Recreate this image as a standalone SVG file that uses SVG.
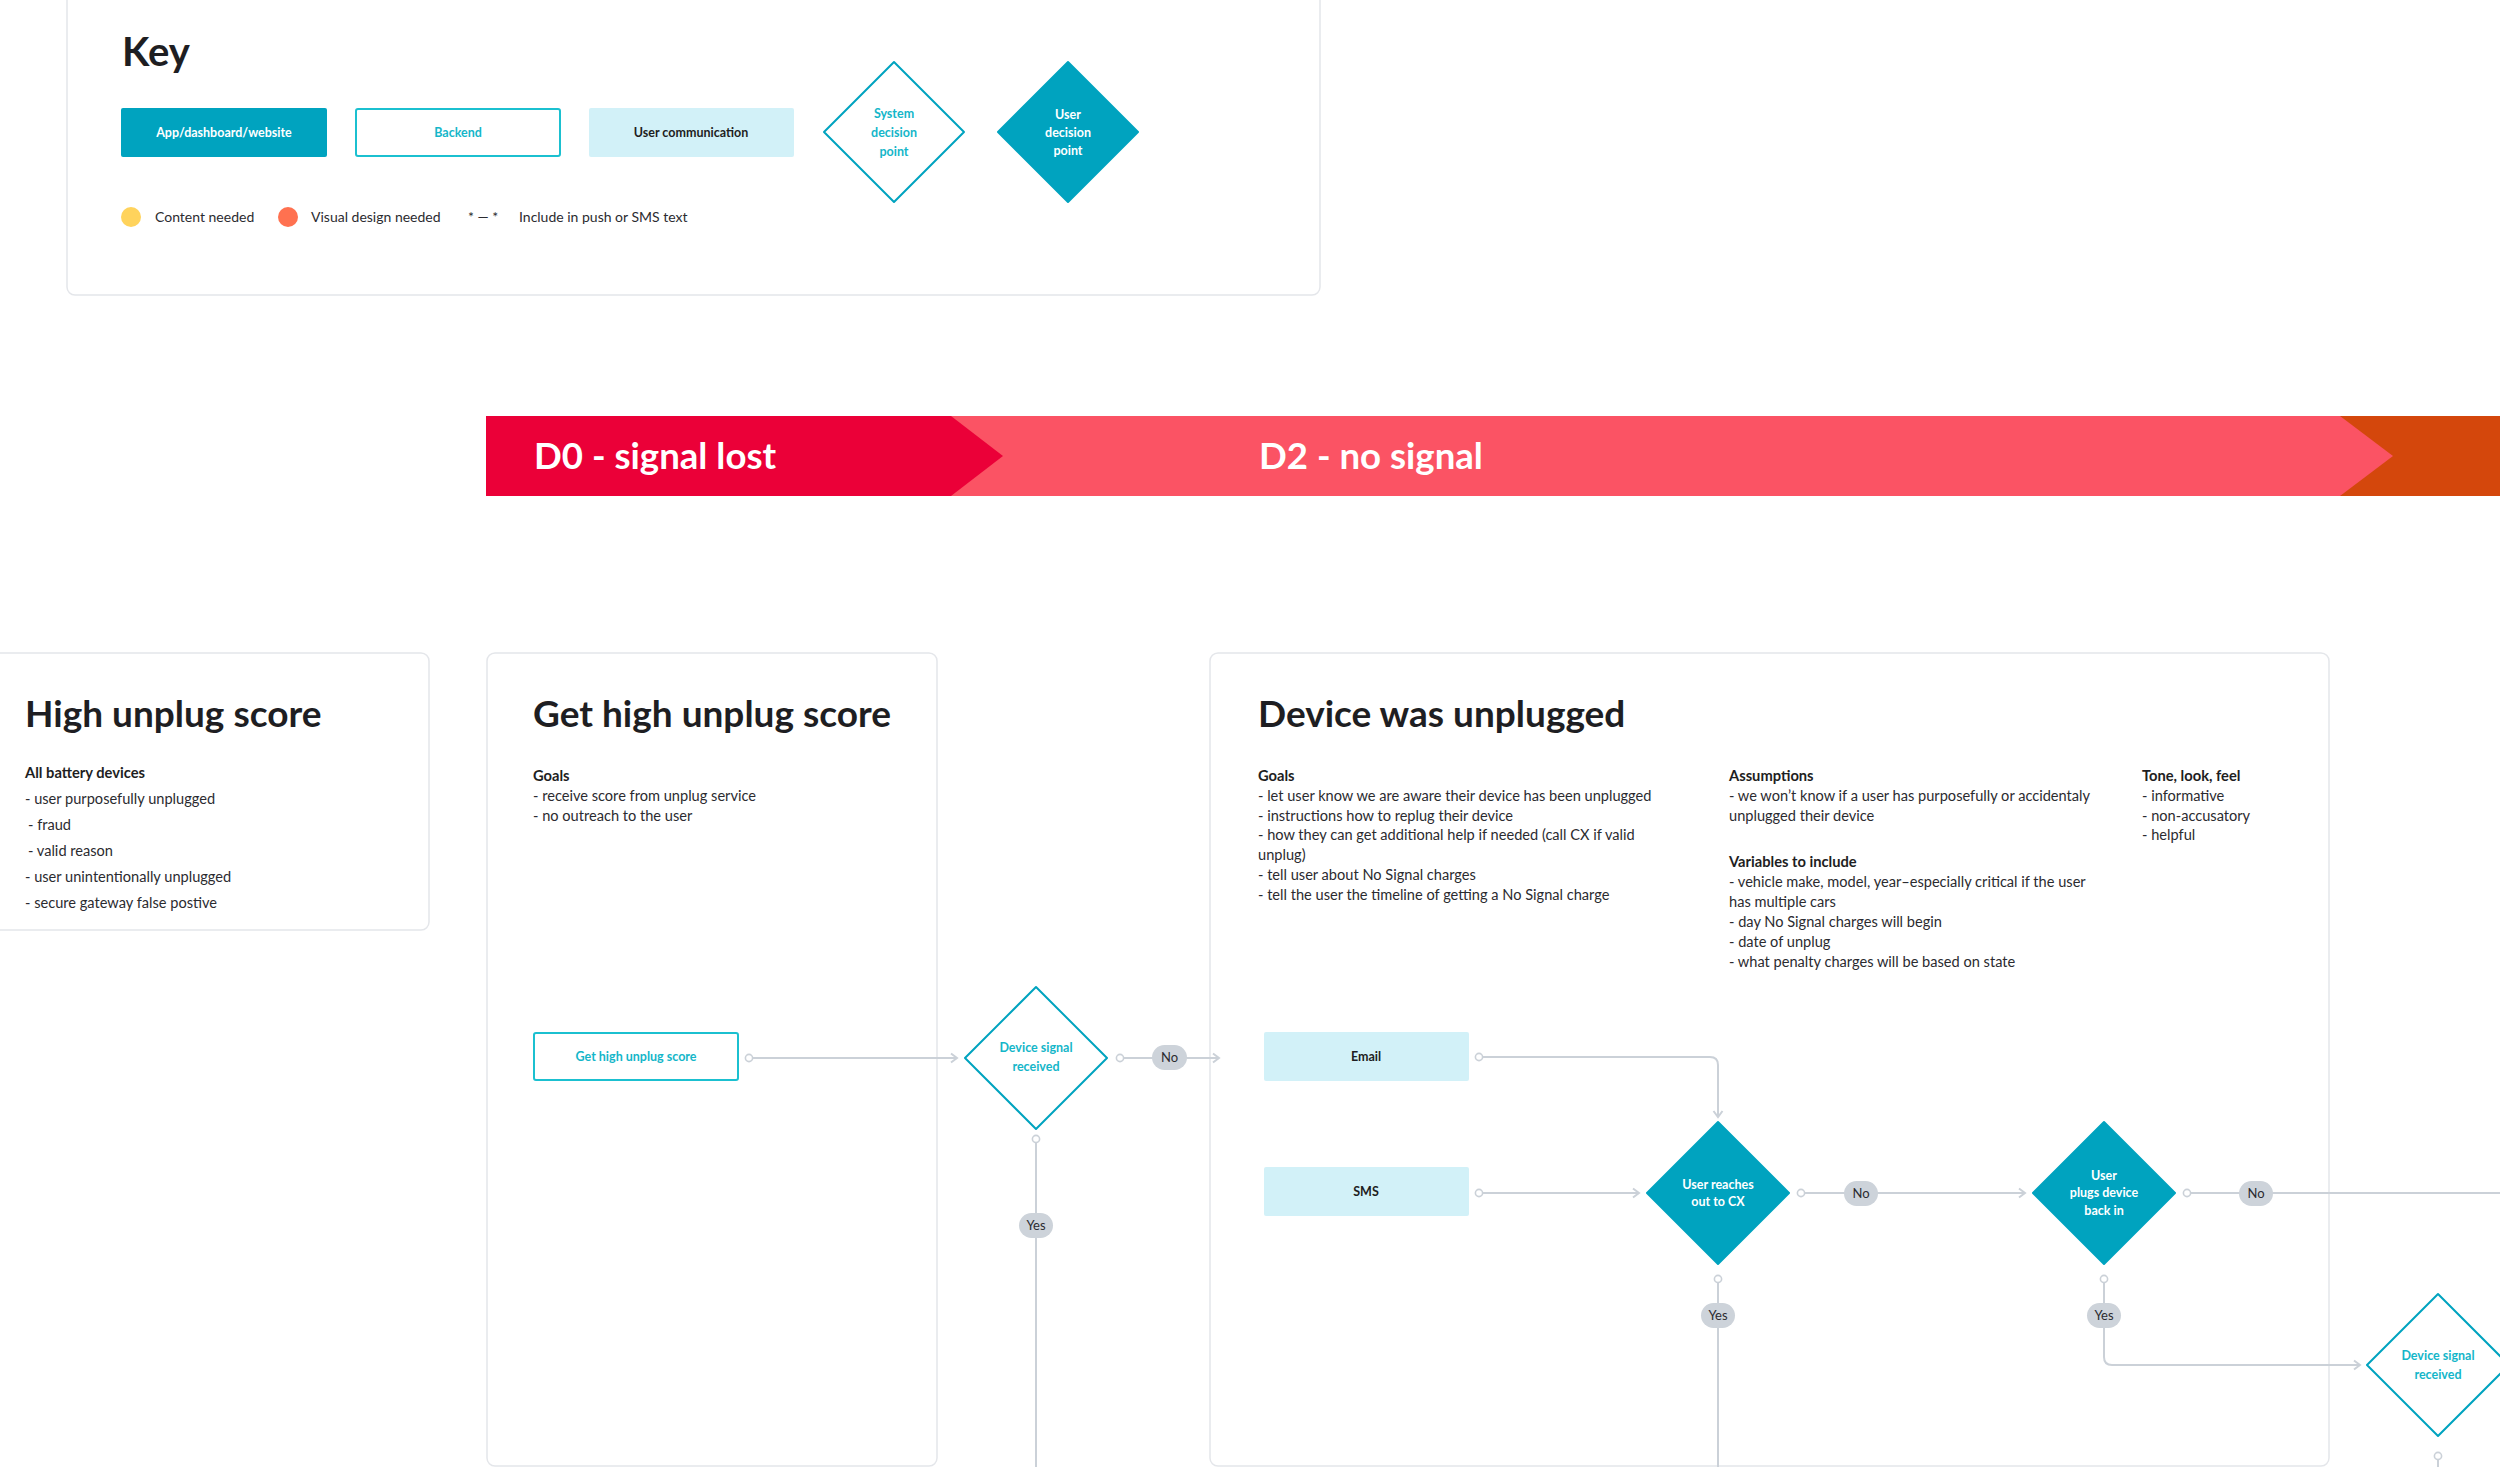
<svg xmlns="http://www.w3.org/2000/svg" width="2500" height="1467" viewBox="0 0 2500 1467">
<style>
text{font-family:Lato,"Liberation Sans",sans-serif;}
.card{fill:#fff;stroke:#E4E6EA;stroke-width:1.5;}
.title{font-size:37px;font-weight:700;fill:#1E1E22;}
.h{font-size:14.7px;font-weight:700;fill:#1E1E22;}
.b{font-size:14.6px;fill:#2B2B30;}
.ban{font-size:36.6px;font-weight:700;fill:#fff;}
.app{fill:#00A3BF;}
.back{fill:#fff;stroke:#1BC0D0;stroke-width:2;}
.comm{fill:#D2F1F8;}
.sysd{fill:#fff;stroke:#00A3BF;stroke-width:2;stroke-linejoin:round;}
.usrd{fill:#00A3BF;stroke:#00A3BF;stroke-width:2;stroke-linejoin:round;}
.tw{font-size:12.5px;fill:#fff;text-anchor:middle;font-weight:700;}
.tt{font-size:12.5px;fill:#14B6C9;text-anchor:middle;font-weight:700;}
.td{font-size:12.5px;fill:#1E1E22;text-anchor:middle;font-weight:700;}
.lg{font-size:14px;fill:#2B2B30;}
.conn{fill:none;stroke:#CBD1D8;stroke-width:2;}
.pill{fill:#CDD3DA;}
.pt{font-size:13px;fill:#2B2B30;text-anchor:middle;}
</style>
<defs>
<marker id="dot" markerUnits="userSpaceOnUse" markerWidth="12" markerHeight="12" refX="6" refY="6" orient="auto">
<circle cx="6" cy="6" r="3.6" fill="#fff" stroke="#CBD1D8" stroke-width="1.6"/>
</marker>
<marker id="arr" markerUnits="userSpaceOnUse" markerWidth="14" markerHeight="14" refX="9" refY="7" orient="auto">
<path d="M3,2.5 L9,7 L3,11.5" fill="none" stroke="#CBD1D8" stroke-width="2"/>
</marker>
</defs>
<rect width="2500" height="1467" fill="#fff"/>

<g id="key">
<rect class="card" x="67" y="-10" width="1253" height="305" rx="8"/>
<text x="122" y="66" font-size="40" font-weight="700" fill="#1E1E22">Key</text>
<g id="key-app"><rect class="app" x="121" y="108" width="206" height="49" rx="2"/><text class="tw" x="224" y="137">App/dashboard/website</text></g>
<g id="key-backend"><rect class="back" x="356" y="109" width="204" height="47" rx="2"/><text class="tt" x="458" y="137">Backend</text></g>
<g id="key-comm"><rect class="comm" x="589" y="108" width="205" height="49" rx="2"/><text class="td" x="691" y="137">User communication</text></g>
<g id="key-sys"><polygon class="sysd" points="894,62 964,132 894,202 824,132"/>
<text class="tt" x="894" y="118">System</text><text class="tt" x="894" y="137">decision</text><text class="tt" x="894" y="156">point</text></g>
<g id="key-usr"><polygon class="usrd" points="1068,62 1138,132 1068,202 998,132"/>
<text class="tw" x="1068" y="119">User</text><text class="tw" x="1068" y="137">decision</text><text class="tw" x="1068" y="155">point</text></g>
<circle cx="131" cy="217" r="10" fill="#FFD35C"/>
<text class="lg" x="155" y="222">Content needed</text>
<circle cx="288" cy="217" r="10" fill="#FF7150"/>
<text class="lg" x="311" y="222">Visual design needed</text>
<text class="lg" x="468" y="222">* — *</text>
<text class="lg" x="519" y="222">Include in push or SMS text</text>
</g>

<g id="banner">
<rect x="2340" y="416" width="160" height="80" fill="#D4470C"/>
<polygon points="950,416 2340,416 2393,456 2340,496 950,496" fill="#FB5364"/>
<polygon points="486,416 951,416 1003,456 951,496 486,496" fill="#EB0038"/>
<text class="ban" x="534" y="469">D0 - signal lost</text>
<text class="ban" x="1259" y="469">D2 - no signal</text>
</g>

<g id="card-high-unplug">
<rect class="card" x="-10" y="653" width="439" height="277" rx="8"/>
<text class="title" x="25" y="727">High unplug score</text>
<text class="h" x="25" y="778">All battery devices</text>
<text class="b" x="25" y="804">- user purposefully unplugged</text>
<text class="b" x="28" y="830">- fraud</text>
<text class="b" x="28" y="856">- valid reason</text>
<text class="b" x="25" y="882">- user unintentionally unplugged</text>
<text class="b" x="25" y="908">- secure gateway false postive</text>
</g>

<g id="card-get-score">
<rect class="card" x="487" y="653" width="450" height="813" rx="8"/>
<text class="title" x="533" y="727">Get high unplug score</text>
<text class="h" x="533" y="781">Goals</text>
<text class="b" x="533" y="801">- receive score from unplug service</text>
<text class="b" x="533" y="821">- no outreach to the user</text>
</g>

<g id="card-unplugged">
<rect class="card" x="1210" y="653" width="1119" height="813" rx="8"/>
<text class="title" x="1258" y="727">Device was unplugged</text>
<text class="h" x="1258" y="781">Goals</text>
<text class="b" x="1258" y="801">- let user know we are aware their device has been unplugged</text>
<text class="b" x="1258" y="821">- instructions how to replug their device</text>
<text class="b" x="1258" y="840">- how they can get additional help if needed (call CX if valid</text>
<text class="b" x="1258" y="860">unplug)</text>
<text class="b" x="1258" y="880">- tell user about No Signal charges</text>
<text class="b" x="1258" y="900">- tell the user the timeline of getting a No Signal charge</text>
<text class="h" x="1729" y="781">Assumptions</text>
<text class="b" x="1729" y="801">- we won’t know if a user has purposefully or accidentaly</text>
<text class="b" x="1729" y="821">unplugged their device</text>
<text class="h" x="1729" y="867">Variables to include</text>
<text class="b" x="1729" y="887">- vehicle make, model, year–especially critical if the user</text>
<text class="b" x="1729" y="907">has multiple cars</text>
<text class="b" x="1729" y="927">- day No Signal charges will begin</text>
<text class="b" x="1729" y="947">- date of unplug</text>
<text class="b" x="1729" y="967">- what penalty charges will be based on state</text>
<text class="h" x="2142" y="781">Tone, look, feel</text>
<text class="b" x="2142" y="801">- informative</text>
<text class="b" x="2142" y="821">- non-accusatory</text>
<text class="b" x="2142" y="840">- helpful</text>
</g>

<g id="connectors">
<path class="conn" d="M749,1058 L957,1058" marker-start="url(#dot)" marker-end="url(#arr)"/>
<path class="conn" d="M1120,1058 L1219,1058" marker-start="url(#dot)" marker-end="url(#arr)"/>
<path class="conn" d="M1036,1139 L1036,1467" marker-start="url(#dot)"/>
<path class="conn" d="M1479,1057 L1710,1057 Q1718,1057 1718,1065 L1718,1117" marker-start="url(#dot)" marker-end="url(#arr)"/>
<path class="conn" d="M1479,1193 L1639,1193" marker-start="url(#dot)" marker-end="url(#arr)"/>
<path class="conn" d="M1801,1193 L2025,1193" marker-start="url(#dot)" marker-end="url(#arr)"/>
<path class="conn" d="M1718,1279 L1718,1467" marker-start="url(#dot)"/>
<path class="conn" d="M2187,1193 L2500,1193" marker-start="url(#dot)"/>
<path class="conn" d="M2104,1279 L2104,1357 Q2104,1365 2112,1365 L2360,1365" marker-start="url(#dot)" marker-end="url(#arr)"/>
<path class="conn" d="M2438,1456 L2438,1467" marker-start="url(#dot)"/>
<g id="pills">
<rect class="pill" x="1152" y="1045" width="35" height="25" rx="12.5"/><text class="pt" x="1169.5" y="1062">No</text>
<rect class="pill" x="1019" y="1213" width="34" height="25" rx="12.5"/><text class="pt" x="1036" y="1230">Yes</text>
<rect class="pill" x="1844" y="1181" width="34" height="25" rx="12.5"/><text class="pt" x="1861" y="1198">No</text>
<rect class="pill" x="2239" y="1181" width="34" height="25" rx="12.5"/><text class="pt" x="2256" y="1198">No</text>
<rect class="pill" x="1701" y="1303" width="34" height="25" rx="12.5"/><text class="pt" x="1718" y="1320">Yes</text>
<rect class="pill" x="2087" y="1303" width="34" height="25" rx="12.5"/><text class="pt" x="2104" y="1320">Yes</text>
</g>
</g>

<g id="n-get-score"><rect class="back" x="534" y="1033" width="204" height="47" rx="2"/><text class="tt" x="636" y="1061">Get high unplug score</text></g>
<g id="n-signal-1"><polygon class="sysd" points="1036,987 1107,1058 1036,1129 965,1058"/>
<text class="tt" x="1036" y="1052">Device signal</text><text class="tt" x="1036" y="1071">received</text></g>
<g id="n-email"><rect class="comm" x="1264" y="1032" width="205" height="49" rx="2"/><text class="td" x="1366" y="1061">Email</text></g>
<g id="n-sms"><rect class="comm" x="1264" y="1167" width="205" height="49" rx="2"/><text class="td" x="1366" y="1196">SMS</text></g>
<g id="n-cx"><polygon class="usrd" points="1718,1122 1789,1193 1718,1264 1647,1193"/>
<text class="tw" x="1718" y="1189">User reaches</text><text class="tw" x="1718" y="1206">out to CX</text></g>
<g id="n-plug"><polygon class="usrd" points="2104,1122 2175,1193 2104,1264 2033,1193"/>
<text class="tw" x="2104" y="1180">User</text><text class="tw" x="2104" y="1197">plugs device</text><text class="tw" x="2104" y="1215">back in</text></g>
<g id="n-signal-2"><polygon class="sysd" points="2438,1294 2509,1365 2438,1436 2367,1365"/>
<text class="tt" x="2438" y="1360">Device signal</text><text class="tt" x="2438" y="1379">received</text></g>
</svg>
